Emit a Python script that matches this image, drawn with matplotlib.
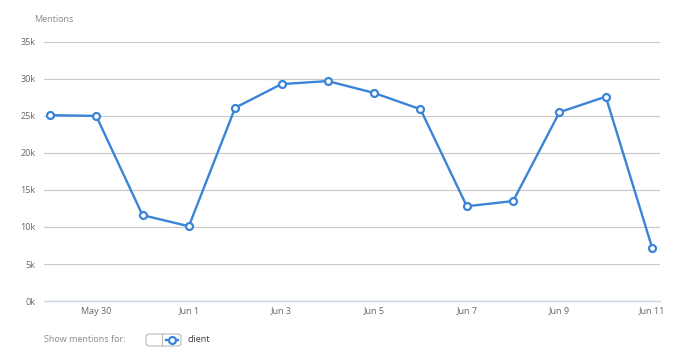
import matplotlib
matplotlib.use("Agg")
import matplotlib.pyplot as plt
from matplotlib.patches import FancyBboxPatch
import numpy as np

# data (mentions per day)
dates = ["May 29", "May 30", "May 31", "Jun 1", "Jun 2", "Jun 3", "Jun 4",
         "Jun 5", "Jun 6", "Jun 7", "Jun 8", "Jun 9", "Jun 10", "Jun 11"]
mentions = [25100, 25000, 11600, 10100, 26100, 29300, 29700,
            28100, 25900, 12800, 13500, 25500, 27600, 7200]
y_ticks = [0, 5000, 10000, 15000, 20000, 25000, 30000, 35000]
y_tick_labels = ["0k", "5k", "10k", "15k", "20k", "25k", "30k", "35k"]
series_name = "client"

blue = "#3a84d8"
grey_text = "#666666"

plt.rcParams["font.family"] = ["Open Sans", "DejaVu Sans"]

fig = plt.figure(figsize=(6.85, 3.64), dpi=100)
ax = fig.add_axes([0.064, 0.173, 0.8995, 0.712])

x = np.arange(len(dates))
ax.plot(x, mentions, color=blue, lw=1.7, marker="o", ms=5,
        mfc="white", mec=blue, mew=1.6, zorder=3, clip_on=False)

ax.set_ylim(0, 35000)
ax.set_xlim(-0.13, 13.17)
ax.set_yticks(y_ticks)
ax.set_yticklabels(y_tick_labels)
ax.grid(axis="y", color="#c8c8c8", lw=0.8)
ax.set_axisbelow(True)

xt = x[1::2]
ax.set_xticks(xt)
ax.set_xticklabels([dates[i] for i in xt])

for s in ["top", "right", "left"]:
    ax.spines[s].set_visible(False)
ax.spines["bottom"].set_color("#ccd6eb")
ax.spines["bottom"].set_linewidth(1.0)
ax.tick_params(axis="both", length=0, labelsize=6.5, colors=grey_text)
ax.tick_params(axis="y", pad=6)
ax.tick_params(axis="x", pad=4)

fig.text(34 / 685, 1 - 19 / 364, "Mentions", fontsize=6.5, color="#888888",
         va="center", ha="left")

# legend-ish toggle under the chart
fig.text(44 / 685, 1 - 339 / 364, "Show mentions for:", fontsize=6.5,
         color="#888888", va="center", ha="left")
box = FancyBboxPatch((146 / 685, 1 - 346 / 364), 35 / 685, 12 / 364,
                     boxstyle="round,pad=0,rounding_size=0.006",
                     transform=fig.transFigure, fc="white", ec="#bbbbbb",
                     lw=0.8)
fig.add_artist(box)
fig.add_artist(plt.Line2D([162 / 685, 162 / 685], [1 - 346 / 364, 1 - 334 / 364],
                          transform=fig.transFigure, color="#bbbbbb", lw=0.8))
fig.add_artist(plt.Line2D([166 / 685, 178 / 685], [1 - 340 / 364, 1 - 340 / 364],
                          transform=fig.transFigure, color=blue, lw=1.7))
fig.add_artist(plt.Line2D([172 / 685], [1 - 340 / 364], transform=fig.transFigure,
                          color=blue, marker="o", ms=5, mfc="white", mew=1.6,
                          ls="none"))
fig.text(188 / 685, 1 - 340 / 364, series_name, fontsize=6.5, color="#333333",
         va="center", ha="left")

fig.savefig("out.png", dpi=100)
